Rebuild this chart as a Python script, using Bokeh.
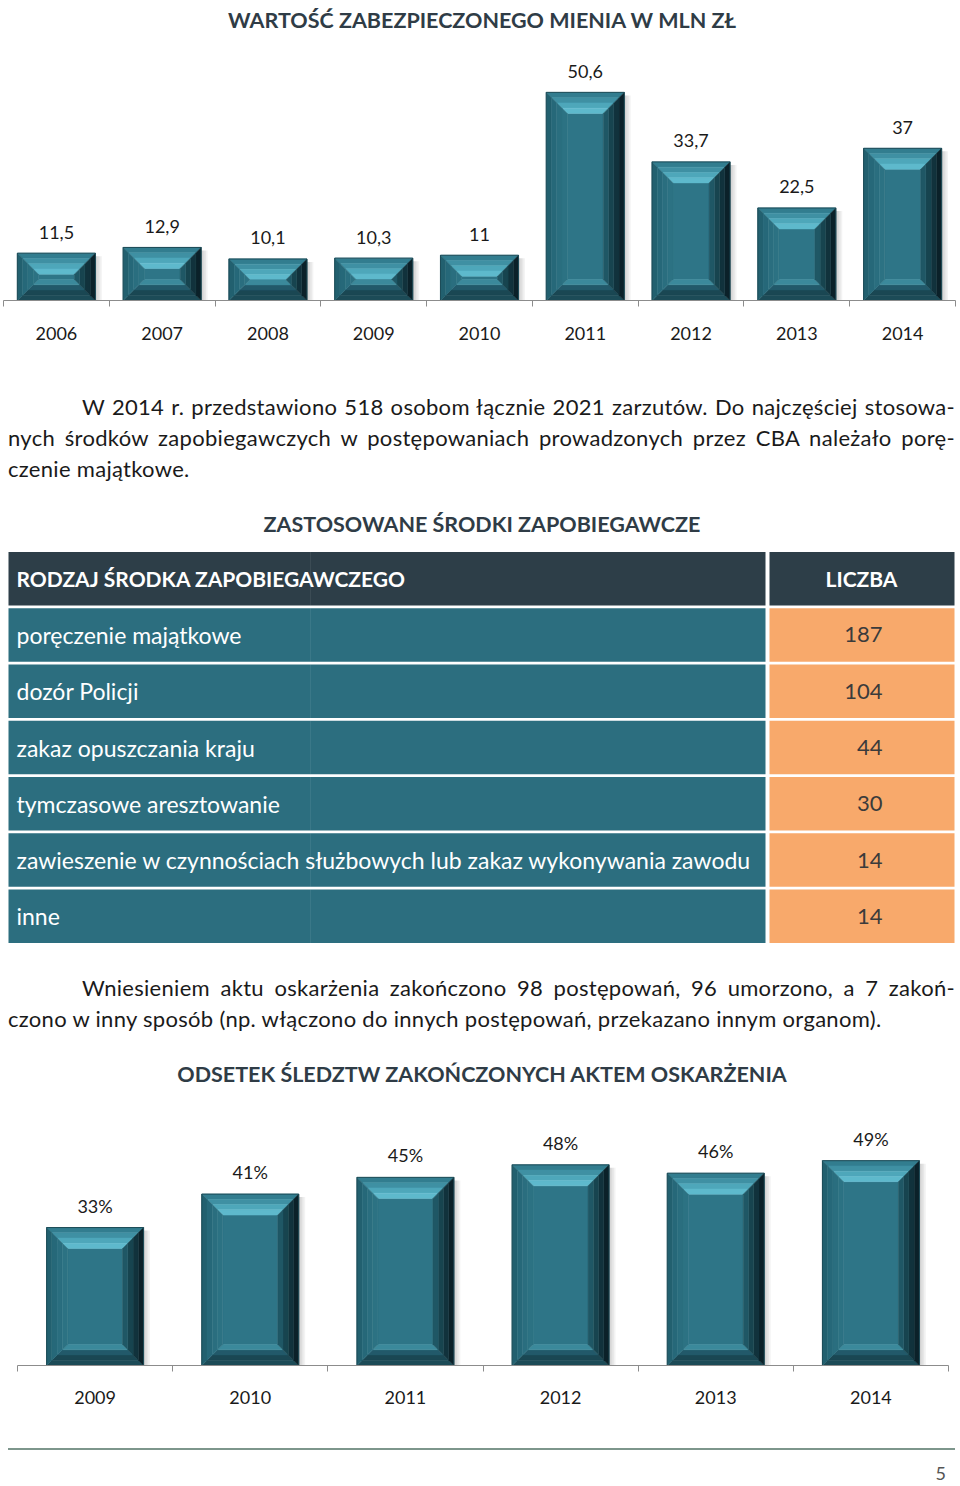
import numpy as np
from bokeh.plotting import figure
from bokeh.models import ColumnDataSource, FixedTicker, Div, Range1d, FactorRange
from bokeh.layouts import column
from bokeh.core.properties import value
from bokeh.embed import file_html
from bokeh.resources import INLINE

# ---------------- data ----------------
years_mienie = ["2006", "2007", "2008", "2009", "2010", "2011", "2012", "2013", "2014"]
mienie_mln = [11.5, 12.9, 10.1, 10.3, 11.0, 50.6, 33.7, 22.5, 37.0]

srodki_header = "RODZAJ ŚRODKA ZAPOBIEGAWCZEGO"
liczba_header = "LICZBA"
srodki_rodzaj = [
    "poręczenie majątkowe",
    "dozór Policji",
    "zakaz opuszczania kraju",
    "tymczasowe aresztowanie",
    "zawieszenie w czynnościach służbowych lub zakaz wykonywania zawodu",
    "inne",
]
srodki_liczba = [187, 104, 44, 30, 14, 14]

years_odsetek = ["2009", "2010", "2011", "2012", "2013", "2014"]
odsetek_pct = [33, 41, 45, 48, 46, 49]

title_mienie = "WARTOŚĆ ZABEZPIECZONEGO MIENIA W MLN ZŁ"
title_srodki = "ZASTOSOWANE ŚRODKI ZAPOBIEGAWCZE"
title_odsetek = "ODSETEK ŚLEDZTW ZAKOŃCZONYCH AKTEM OSKARŻENIA"

para1_lines = [
    "W 2014 r. przedstawiono 518 osobom łącznie 2021 zarzutów. Do najczęściej stosowa-",
    "nych środków zapobiegawczych w postępowaniach prowadzonych przez CBA należało porę-",
    "czenie majątkowe.",
]
para2_lines = [
    "Wniesieniem aktu oskarżenia zakończono 98 postępowań, 96 umorzono, a 7 zakoń-",
    "czono w inny sposób (np. włączono do innych postępowań, przekazano innym organom).",
]
page_number = "5"

# ---------------- styles ----------------
FONT = "Lato"
TITLE_COLOR = "#2f3c46"
TEXT_COLOR = "#1a1a1a"
AXIS_COLOR = "#8c8c8c"
FACE = "#2e7587"
TOP = ["#327d8f", "#3f90a3", "#4ea7ba", "#5eb9cc"]
BOTTOM = ["#1c4b57", "#1a4753", "#22596a", "#3b899b"]
LEFT = ["#22606f", "#266879", "#2a6e7f", "#2c7283"]
RIGHT = ["#0b2129", "#11323c", "#17444f", "#1f5765"]
HEADER_BG = "#2d3e48"
CELL_BG = "#2c6e7f"
NUM_BG = "#f8a96b"


def bevel_source(centers, vals, hw, bx, by_max):
    xs, ys, cs = [], [], []
    n = len(TOP)
    for c, v in zip(centers, vals):
        x0, x1 = c - hw, c + hw
        by = min(by_max, v / 2.0)
        xs.append([x0 + bx, x1 - bx, x1 - bx, x0 + bx])
        ys.append([by, by, v - by, v - by])
        cs.append(FACE)
        for k in range(n):
            t0, t1 = k / n, (k + 1) / n
            xs.append([x0 + t0 * bx, x1 - t0 * bx, x1 - t1 * bx, x0 + t1 * bx])
            ys.append([v - t0 * by, v - t0 * by, v - t1 * by, v - t1 * by])
            cs.append(TOP[k])
            xs.append([x0 + t0 * bx, x1 - t0 * bx, x1 - t1 * bx, x0 + t1 * bx])
            ys.append([t0 * by, t0 * by, t1 * by, t1 * by])
            cs.append(BOTTOM[k])
            xs.append([x0 + t0 * bx, x0 + t1 * bx, x0 + t1 * bx, x0 + t0 * bx])
            ys.append([t0 * by, t1 * by, v - t1 * by, v - t0 * by])
            cs.append(LEFT[k])
            xs.append([x1 - t0 * bx, x1 - t1 * bx, x1 - t1 * bx, x1 - t0 * bx])
            ys.append([t0 * by, t1 * by, v - t1 * by, v - t0 * by])
            cs.append(RIGHT[k])
    return ColumnDataSource(dict(xs=xs, ys=ys, color=cs))


def bar_chart(cats, vals, labels, width, height, yend, borders, hw, bevel_px, label_off, standoff):
    bl, br, bt, bb = borders
    n = len(cats)
    p = figure(width=width, height=height, x_range=Range1d(0, n), y_range=Range1d(0, yend),
               output_backend="svg", toolbar_location=None, y_axis_location=None,
               min_border_left=bl, min_border_right=br, min_border_top=bt, min_border_bottom=bb,
               frame_align=False)
    fw = width - bl - br
    fh = height - bt - bb
    xpx = n / fw
    ypx = yend / fh
    centers = [i + 0.5 for i in range(n)]
    p.outline_line_color = None
    p.xgrid.visible = False
    p.ygrid.visible = False
    p.background_fill_color = "white"
    p.border_fill_color = "white"
    # soft shadow on the right
    for k in range(1, 5):
        p.quad(left=[c + hw for c in centers], right=[c + hw + k * 1.6 * xpx for c in centers],
               bottom=[-1.5 * ypx] * n, top=[v - 3 * ypx for v in vals],
               fill_color="#555555", fill_alpha=0.07, line_color=None)
    src = bevel_source(centers, vals, hw, bevel_px * xpx, bevel_px * ypx)
    p.patches("xs", "ys", source=src, fill_color="color", line_color="color", line_width=0.5)
    p.quad(left=[c - hw for c in centers], right=[c + hw for c in centers],
           bottom=[0] * n, top=vals, fill_color=None, line_color="#1b4a56", line_width=1)
    p.text(x=centers, y=vals, text=labels, y_offset=-label_off, text_align="center",
           text_baseline="middle", text_font=value(FONT), text_font_size="18px",
           text_color=TEXT_COLOR)
    ax = p.xaxis[0]
    ax.ticker = FixedTicker(ticks=centers, minor_ticks=list(range(n + 1)))
    ax.major_label_overrides = {c: cat for c, cat in zip(centers, cats)}
    ax.major_tick_line_color = None
    ax.major_tick_out = 0
    ax.major_tick_in = 0
    ax.minor_tick_line_color = AXIS_COLOR
    ax.minor_tick_out = 6
    ax.minor_tick_in = 0
    ax.axis_line_color = AXIS_COLOR
    ax.axis_line_width = 1.2
    ax.major_label_standoff = standoff
    ax.major_label_text_font = FONT
    ax.major_label_text_font_size = "18px"
    ax.major_label_text_color = TEXT_COLOR
    return p


def title_div(text, height):
    html = (f'<div style="font-family:{FONT};font-weight:bold;font-size:21.5px;color:{TITLE_COLOR};'
            f'text-align:center;line-height:{height}px;width:956px;margin-left:4px;white-space:nowrap">{text}</div>')
    return Div(text=html, width=960, height=height, margin=0)


def para_div(lines, height, pad_top):
    parts = []
    for i, ln in enumerate(lines):
        last = i == len(lines) - 1
        ind = "padding-left:74px;" if i == 0 else ""
        al = "text-align:left;" if last else "text-align:justify;text-align-last:justify;"
        parts.append(f'<div style="{ind}{al}white-space:nowrap">{ln}</div>')
    html = (f'<div style="font-family:{FONT};font-size:22px;letter-spacing:0.3px;color:{TEXT_COLOR};line-height:31px;'
            f'padding-top:{pad_top}px;margin-left:8px;width:947px">' + "".join(parts) + '</div>')
    return Div(text=html, width=960, height=height, margin=0)


# ---------------- chart 1 ----------------
lab1 = [("%.1f" % v).replace(".", ",").replace(",0", "") for v in mienie_mln]
p1 = bar_chart(years_mienie, mienie_mln, lab1, 960, 335, 62.0, (3, 5, 5, 75), 0.369, 21, 21, 20)

# ---------------- table ----------------
rows = [srodki_header] + srodki_rodzaj
p2 = figure(width=960, height=400, x_range=Range1d(0, 960),
            y_range=FactorRange(factors=list(reversed(rows))),
            output_backend="svg", toolbar_location=None,
            x_axis_location=None, y_axis_location=None, frame_align=False,
            min_border_left=0, min_border_right=0, min_border_top=2, min_border_bottom=4)
p2.outline_line_color = None
p2.xgrid.visible = False
p2.ygrid.visible = False
left_colors = [HEADER_BG] + [CELL_BG] * len(srodki_rodzaj)
right_colors = [HEADER_BG] + [NUM_BG] * len(srodki_rodzaj)
p2.hbar(y=rows, left=8, right=765, height=0.95, fill_color=left_colors, line_color=None)
p2.hbar(y=rows, left=769, right=954, height=0.95, fill_color=right_colors, line_color=None)
p2.hbar(y=rows, left=309.5, right=310.5, height=0.95, fill_color="#ffffff", fill_alpha=0.07, line_color=None)
p2.text(x=16, y=[srodki_header], text=[srodki_header], text_baseline="middle", text_align="left",
        text_font=value(FONT), text_font_style="bold", text_font_size="21px", text_color="white")
p2.text(x=861, y=[srodki_header], text=[liczba_header], text_baseline="middle", text_align="center",
        text_font=value(FONT), text_font_style="bold", text_font_size="21px", text_color="white")
p2.text(x=16, y=srodki_rodzaj, text=srodki_rodzaj, text_baseline="middle", text_align="left",
        text_font=value(FONT), text_font_size="23px", text_color="white")
p2.text(x=882, y=srodki_rodzaj, text=[str(v) for v in srodki_liczba], text_baseline="middle",
        text_align="right", text_font=value(FONT), text_font_size="22px", text_color="#3b3b3b")

# ---------------- chart 3 ----------------
lab3 = [f"{v}%" for v in odsetek_pct]
p3 = bar_chart(years_odsetek, odsetek_pct, lab3, 960, 330, 61.0, (17, 12, 10, 65), 0.3125, 21, 22, 19)

# ---------------- footer ----------------
footer_html = (
    '<div style="margin-left:8px;margin-top:18px;width:947px;border-top:2px solid #7d968c;height:0"></div>'
    f'<div style="font-family:{FONT};font-size:18px;color:#555555;text-align:right;width:946px;'
    f'margin-top:13px;line-height:20px">{page_number}</div>'
)
footer = Div(text=footer_html, width=960, height=56, margin=0)

page = column(
    title_div(title_mienie, 40),
    p1,
    para_div(para1_lines, 125, 16),
    title_div(title_srodki, 48),
    p2,
    para_div(para2_lines, 100, 24),
    title_div(title_odsetek, 52),
    p3,
    footer,
    spacing=0,
)

open("out.html", "w").write(file_html(page, INLINE))
